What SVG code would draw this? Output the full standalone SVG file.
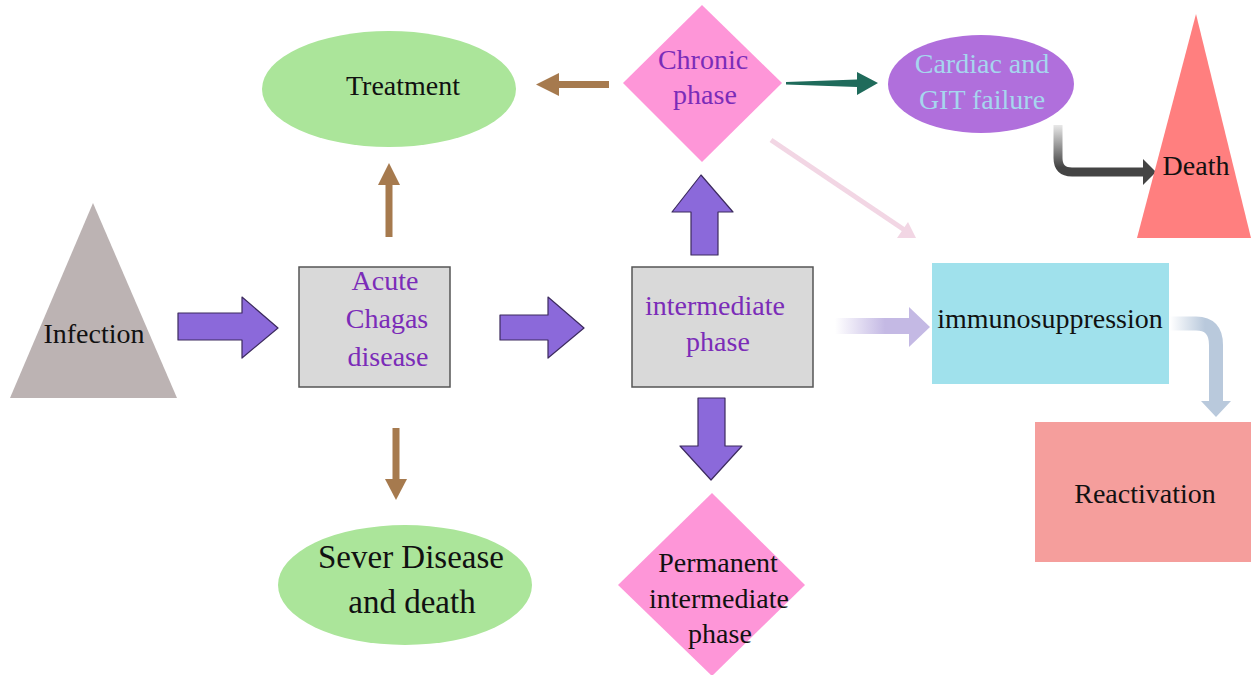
<svg xmlns="http://www.w3.org/2000/svg" width="1251" height="675" viewBox="0 0 1251 675" font-family="'Liberation Serif', 'DejaVu Serif', serif">
<style>
text{font-family:'Liberation Serif','DejaVu Serif',serif;font-size:28px;text-anchor:middle;fill:#111}
.pt{fill:#7b2cb8}
.lb{fill:#a6d6ee}
.box{fill:#d9d9d9;stroke:#555;stroke-width:1.5}
.blk{fill:#8b69da;stroke:#3c2a5e;stroke-width:1.2;stroke-linejoin:round}
.brown{fill:#a67a4e}
</style>
<defs>
<linearGradient id="gImm" gradientUnits="userSpaceOnUse" x1="835" y1="0" x2="885" y2="0">
<stop offset="0" stop-color="#ffffff"/><stop offset="1" stop-color="#c4b9e4"/>
</linearGradient>
<linearGradient id="gDeath" gradientUnits="userSpaceOnUse" x1="0" y1="125" x2="0" y2="172">
<stop offset="0" stop-color="#e8e8e8"/><stop offset="0.9" stop-color="#444"/><stop offset="1" stop-color="#444"/>
</linearGradient>
<linearGradient id="gReact" gradientUnits="userSpaceOnUse" x1="1170" y1="0" x2="1205" y2="0">
<stop offset="0" stop-color="#ffffff"/><stop offset="1" stop-color="#b9c9dc"/>
</linearGradient>
</defs>

<g id="connectors">
<polygon class="blk" points="178,313 242,313 242,297 278,328 242,358 242,340 178,340"/>
<polygon class="blk" points="500,315 548,315 548,297 584,328 548,358 548,340 500,340"/>
<polygon class="blk" points="691,255 691,212 672,212 701,175 733,212 718,212 718,255"/>
<polygon class="blk" points="698,398 725,398 725,446 742,446 711,480 680,446 698,446"/>
<g class="brown">
<rect x="385.5" y="184" width="7" height="53"/>
<polygon points="378,185 400,185 389,163"/>
<rect x="558" y="81" width="51" height="7"/>
<polygon points="559,73 559,96 536,84.5"/>
<rect x="392.5" y="428" width="7" height="53"/>
<polygon points="385,479 407,479 396,500"/>
</g>
<polygon fill="#1f6b5b" points="786,82 857,79.5 857,72 878,83 857,95 857,87 786,84.5"/>
<path d="M1058,125 V158 Q1058,172 1072,172 H1144" fill="none" stroke="url(#gDeath)" stroke-width="9"/>
<polygon fill="#444" points="1143,159 1156,172 1143,185"/>
<line x1="771" y1="140" x2="906" y2="231" stroke="#f2d6e4" stroke-width="5"/>
<polygon fill="#f2d6e4" points="897,238 916,238 908,222"/>
<rect x="835" y="318" width="76" height="16" fill="url(#gImm)"/>
<polygon fill="#c4b9e4" points="909,307 930,327 909,347"/>
<path d="M1170,323.5 H1196 Q1216,323.5 1216,345 V402" fill="none" stroke="url(#gReact)" stroke-width="14"/>
<polygon fill="#b9c9dc" points="1201,401 1231,401 1216,417"/>
</g>

<g id="infection">
<polygon points="93,203 177,398 10,398" fill="#bcb3b3"/>
<text x="94" y="343">Infection</text>
</g>
<g id="acute">
<rect class="box" x="299" y="267" width="151" height="120"/>
<text class="pt" x="385" y="290">Acute</text>
<text class="pt" x="387" y="328">Chagas</text>
<text class="pt" x="388" y="366">disease</text>
</g>
<g id="intermediate">
<rect class="box" x="632" y="267" width="181" height="120"/>
<text class="pt" x="715" y="315">intermediate</text>
<text class="pt" x="718" y="351">phase</text>
</g>
<g id="treatment">
<ellipse cx="389" cy="89" rx="127" ry="58" fill="#abe59a"/>
<text x="403" y="95">Treatment</text>
</g>
<g id="sever">
<ellipse cx="405" cy="585" rx="127" ry="60" fill="#abe59a"/>
<text x="411" y="568" style="font-size:33px">Sever Disease</text>
<text x="412" y="613" style="font-size:33px">and death</text>
</g>
<g id="chronic">
<polygon points="702,5 782,83 702,162 623,83" fill="#fe96d8"/>
<text class="pt" x="703" y="69">Chronic</text>
<text class="pt" x="705" y="104">phase</text>
</g>
<g id="permanent">
<polygon points="712,493 805,585 712,676 618,585" fill="#fe96d8"/>
<text x="718" y="572">Permanent</text>
<text x="719" y="608">intermediate</text>
<text x="720" y="643">phase</text>
</g>
<g id="cardiac">
<ellipse cx="981" cy="84" rx="93" ry="49" fill="#b06fdc"/>
<text class="lb" x="982" y="73">Cardiac and</text>
<text class="lb" x="982" y="109">GIT failure</text>
</g>
<g id="death">
<polygon points="1196,14 1251,238 1137,238" fill="#ff7f7f"/>
<text x="1196" y="175">Death</text>
</g>
<g id="immunosuppression">
<rect x="932" y="263" width="237" height="121" fill="#a0e1ec"/>
<text x="1050" y="328">immunosuppression</text>
</g>
<g id="reactivation">
<rect x="1035" y="422" width="216" height="140" fill="#f59e9c"/>
<text x="1145" y="503">Reactivation</text>
</g>
</svg>
